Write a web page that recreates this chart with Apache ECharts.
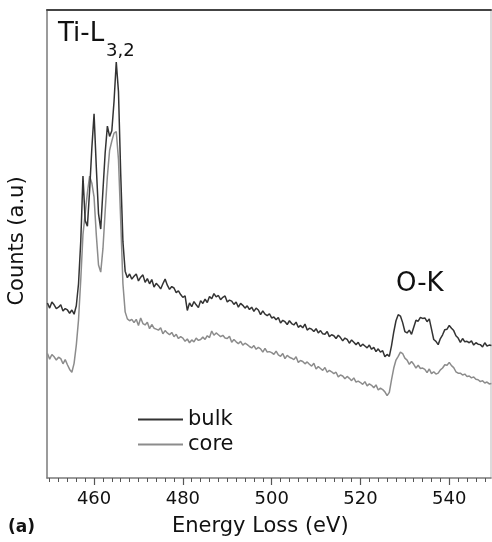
<!DOCTYPE html>
<html>
<head>
<meta charset="utf-8">
<script src="https://cdn.jsdelivr.net/npm/echarts@6/dist/echarts.min.js"></script>
<style>
html,body{margin:0;padding:0;background:#fff;}
#chart{width:492px;height:542px;}
</style>
</head>
<body>
<div id="chart"></div>
<script>
// Energy grid of the spectrometer channels (eV)
const energyStart = 449.5;
const energyStep = 0.5;

// Counts (arbitrary units), one value per channel
const bulkCounts = [
  37.4, 36.3, 37.6, 37.0, 36.2, 36.5, 37.0, 35.7, 36.2, 35.9,
  35.2, 35.9, 35.0, 36.8, 41.5, 50.5, 64.5, 55.0, 53.8, 61.5,
  70.5, 77.8, 66.5, 56.5, 53.2, 61.5, 69.5, 75.2, 73.0, 74.2,
  80.5, 88.9, 82.5, 65.0, 50.5, 44.2, 42.8, 43.6, 42.5, 43.1,
  43.6, 42.1, 42.9, 43.4, 41.8, 42.6, 41.5, 42.4, 40.8, 41.6,
  41.1, 40.4, 41.5, 42.5, 41.2, 40.3, 40.9, 40.6, 39.6, 40.0,
  39.2, 38.6, 38.9, 35.8, 37.4, 36.6, 37.7, 37.0, 36.4, 37.9,
  37.3, 38.2, 37.5, 38.8, 38.3, 39.4, 38.7, 39.0, 38.1, 38.6,
  38.9, 37.6, 38.0, 37.8, 37.1, 37.6, 36.5, 37.3, 36.9, 36.3,
  36.8, 36.0, 36.5, 35.6, 36.3, 35.9, 34.9, 35.7, 35.0, 34.7,
  35.1, 34.2, 34.4, 33.8, 34.3, 33.1, 33.7, 33.4, 32.8, 33.6,
  33.0, 32.7, 33.3, 32.2, 32.6, 32.1, 32.9, 31.6, 32.0, 31.8,
  31.3, 31.9, 31.0, 31.5, 30.8, 30.7, 31.3, 30.2, 30.6, 30.4,
  29.8, 30.5, 30.0, 29.3, 29.9, 29.6, 28.8, 29.5, 29.0, 28.5,
  29.0, 28.1, 28.6, 28.2, 27.8, 28.4, 27.5, 27.9, 27.0, 27.6,
  26.9, 27.2, 25.9, 26.4, 26.0, 28.3, 31.2, 33.6, 34.9, 34.6,
  33.2, 31.3, 31.0, 31.6, 30.7, 32.2, 33.7, 33.5, 34.3, 34.1,
  34.2, 33.4, 34.0, 31.8, 29.6, 29.2, 28.5, 29.8, 30.6, 31.7,
  31.8, 32.6, 32.0, 31.5, 30.4, 29.9, 29.0, 29.8, 29.1, 29.2,
  28.9, 29.3, 28.4, 28.9, 28.6, 28.5, 28.0, 28.9, 28.2, 28.4,
  28.3
];

const coreCounts = [
  26.6, 25.4, 26.4, 25.9, 25.2, 25.8, 25.5, 24.4, 25.3, 24.2,
  23.2, 22.6, 24.5, 28.4, 33.8, 42.3, 52.0, 56.5, 61.0, 64.5,
  63.0, 60.0, 52.0, 45.5, 44.0, 49.0, 57.0, 64.5, 70.0, 72.0,
  73.7, 74.0, 68.0, 55.0, 41.5, 35.5, 34.0, 33.6, 33.9, 33.2,
  33.9, 32.6, 34.2, 33.0, 32.7, 33.3, 31.9, 32.8, 32.0, 31.8,
  31.6, 32.1, 30.8, 31.5, 31.0, 30.6, 31.1, 30.2, 30.7, 29.8,
  30.2, 29.9, 29.2, 29.7, 28.9, 29.5, 29.1, 29.9, 29.4, 29.6,
  30.1, 29.6, 30.4, 30.0, 31.4, 30.5, 31.0, 30.6, 30.2, 30.5,
  29.9, 29.8, 30.3, 29.0, 29.6, 29.1, 28.7, 29.2, 28.4, 28.8,
  28.5, 28.1, 27.8, 28.3, 27.5, 27.9, 27.6, 26.9, 27.7, 26.9,
  27.0, 26.8, 26.4, 27.1, 26.3, 26.0, 26.6, 25.5, 26.2, 25.8,
  25.6, 25.3, 25.9, 24.7, 25.1, 24.9, 24.4, 24.8, 24.3, 23.9,
  24.5, 23.3, 23.8, 23.4, 23.0, 23.6, 22.6, 23.0, 22.7, 22.3,
  22.6, 21.6, 22.0, 21.8, 21.2, 21.7, 21.3, 20.8, 21.4, 20.5,
  20.7, 20.4, 20.0, 20.6, 19.7, 20.1, 19.8, 19.3, 19.9, 18.8,
  19.2, 18.9, 18.4, 17.6, 18.3, 21.0, 23.5, 25.2, 26.0, 26.9,
  26.6, 25.6, 25.2, 24.3, 24.9, 24.3, 23.5, 24.1, 23.4, 23.5,
  23.2, 22.5, 23.3, 22.3, 22.7, 22.2, 22.4, 23.1, 23.5, 24.2,
  24.1, 24.7, 24.0, 23.6, 22.7, 22.4, 22.4, 22.0, 22.2, 21.7,
  21.8, 21.4, 21.6, 21.1, 21.0, 20.6, 20.8, 20.3, 20.5, 20.1,
  20.2
];

// Axis tick labels
const majorTicks = [460, 480, 500, 520, 540];
const minorTicks = [450, 452, 454, 456, 458, 462, 464, 466, 468, 470, 472, 474, 476, 478,
  482, 484, 486, 488, 490, 492, 494, 496, 498, 502, 504, 506, 508, 510, 512, 514, 516, 518,
  522, 524, 526, 528, 530, 532, 534, 536, 538, 542, 544, 546, 548];
const seriesNames = ['bulk', 'core'];

const xMin = 449.4, xMax = 549.4;

function toPairs(arr) {
  return arr.map((v, i) => [energyStart + i * energyStep, v]);
}

const FONT = 'DejaVu Sans';
const chart = echarts.init(document.getElementById('chart'), null, {renderer: 'canvas'});
chart.setOption({
  animation: false,
  backgroundColor: '#fff',
  grid: {left: 47, right: 1, top: 10, bottom: 64, containLabel: false, outerBoundsMode: 'none'},
  legend: {
    data: seriesNames,
    orient: 'vertical',
    left: 133, top: 402,
    icon: 'rect',
    itemWidth: 45, itemHeight: 2,
    itemGap: 0,
    textStyle: {fontFamily: FONT, fontSize: 21, color: '#111', lineHeight: 25}
  },
  xAxis: [
    {
      type: 'value', position: 'bottom', min: xMin, max: xMax,
      axisLine: {show: true, lineStyle: {color: '#7a7a7a', width: 1.5}},
      axisTick: {show: true, customValues: majorTicks, length: 7, lineStyle: {color: '#555', width: 1.2}},
      axisLabel: {show: true, customValues: majorTicks, fontFamily: FONT, fontSize: 18, color: '#111', margin: 12},
      splitLine: {show: false}
    },
    {
      type: 'value', position: 'bottom', min: xMin, max: xMax,
      axisLine: {show: false},
      axisTick: {show: true, customValues: minorTicks, length: 4, lineStyle: {color: '#555', width: 1}},
      axisLabel: {show: false},
      splitLine: {show: false}
    },
    {
      type: 'value', position: 'top', min: xMin, max: xMax,
      axisLine: {show: true, lineStyle: {color: '#444', width: 2}},
      axisTick: {show: false}, axisLabel: {show: false}, splitLine: {show: false}
    }
  ],
  yAxis: [
    {
      type: 'value', position: 'left', min: 0, max: 100,
      axisLine: {show: true, lineStyle: {color: '#7a7a7a', width: 1.5}},
      axisTick: {show: false}, axisLabel: {show: false}, splitLine: {show: false}
    },
    {
      type: 'value', position: 'right', min: 0, max: 100,
      axisLine: {show: true, lineStyle: {color: '#cfcfcf', width: 1.5}},
      axisTick: {show: false}, axisLabel: {show: false}, splitLine: {show: false}
    }
  ],
  series: [
    {
      name: seriesNames[1], type: 'line', xAxisIndex: 0, yAxisIndex: 0,
      data: toPairs(coreCounts), showSymbol: false, symbol: 'none',
      lineStyle: {color: '#8c8c8c', width: 1.5}, itemStyle: {color: '#8c8c8c'}, z: 2
    },
    {
      name: seriesNames[0], type: 'line', xAxisIndex: 0, yAxisIndex: 0,
      data: toPairs(bulkCounts), showSymbol: false, symbol: 'none',
      lineStyle: {color: '#333', width: 1.5}, itemStyle: {color: '#333'}, z: 3
    }
  ],
  graphic: [
    {type: 'text', left: 58, top: 21, style: {text: 'Ti-L', font: '26px "DejaVu Sans"', fill: '#111'}},
    {type: 'text', left: 106, top: 42, style: {text: '3,2', font: '18px "DejaVu Sans"', fill: '#111'}},
    {type: 'text', left: 396, top: 271, style: {text: 'O-K', font: '26px "DejaVu Sans"', fill: '#111'}},
    {type: 'text', left: 172, top: 516, style: {text: 'Energy Loss (eV)', font: '21px "DejaVu Sans"', fill: '#111'}},
    {type: 'text', left: 8, top: 519, style: {text: '(a)', font: 'bold 17px "DejaVu Sans"', fill: '#111'}},
    {type: 'text', x: 18, y: 241, rotation: Math.PI / 2,
      style: {text: 'Counts (a.u)', font: '21px "DejaVu Sans"', fill: '#111', align: 'center', verticalAlign: 'middle'}}
  ]
});
</script>
</body>
</html>
